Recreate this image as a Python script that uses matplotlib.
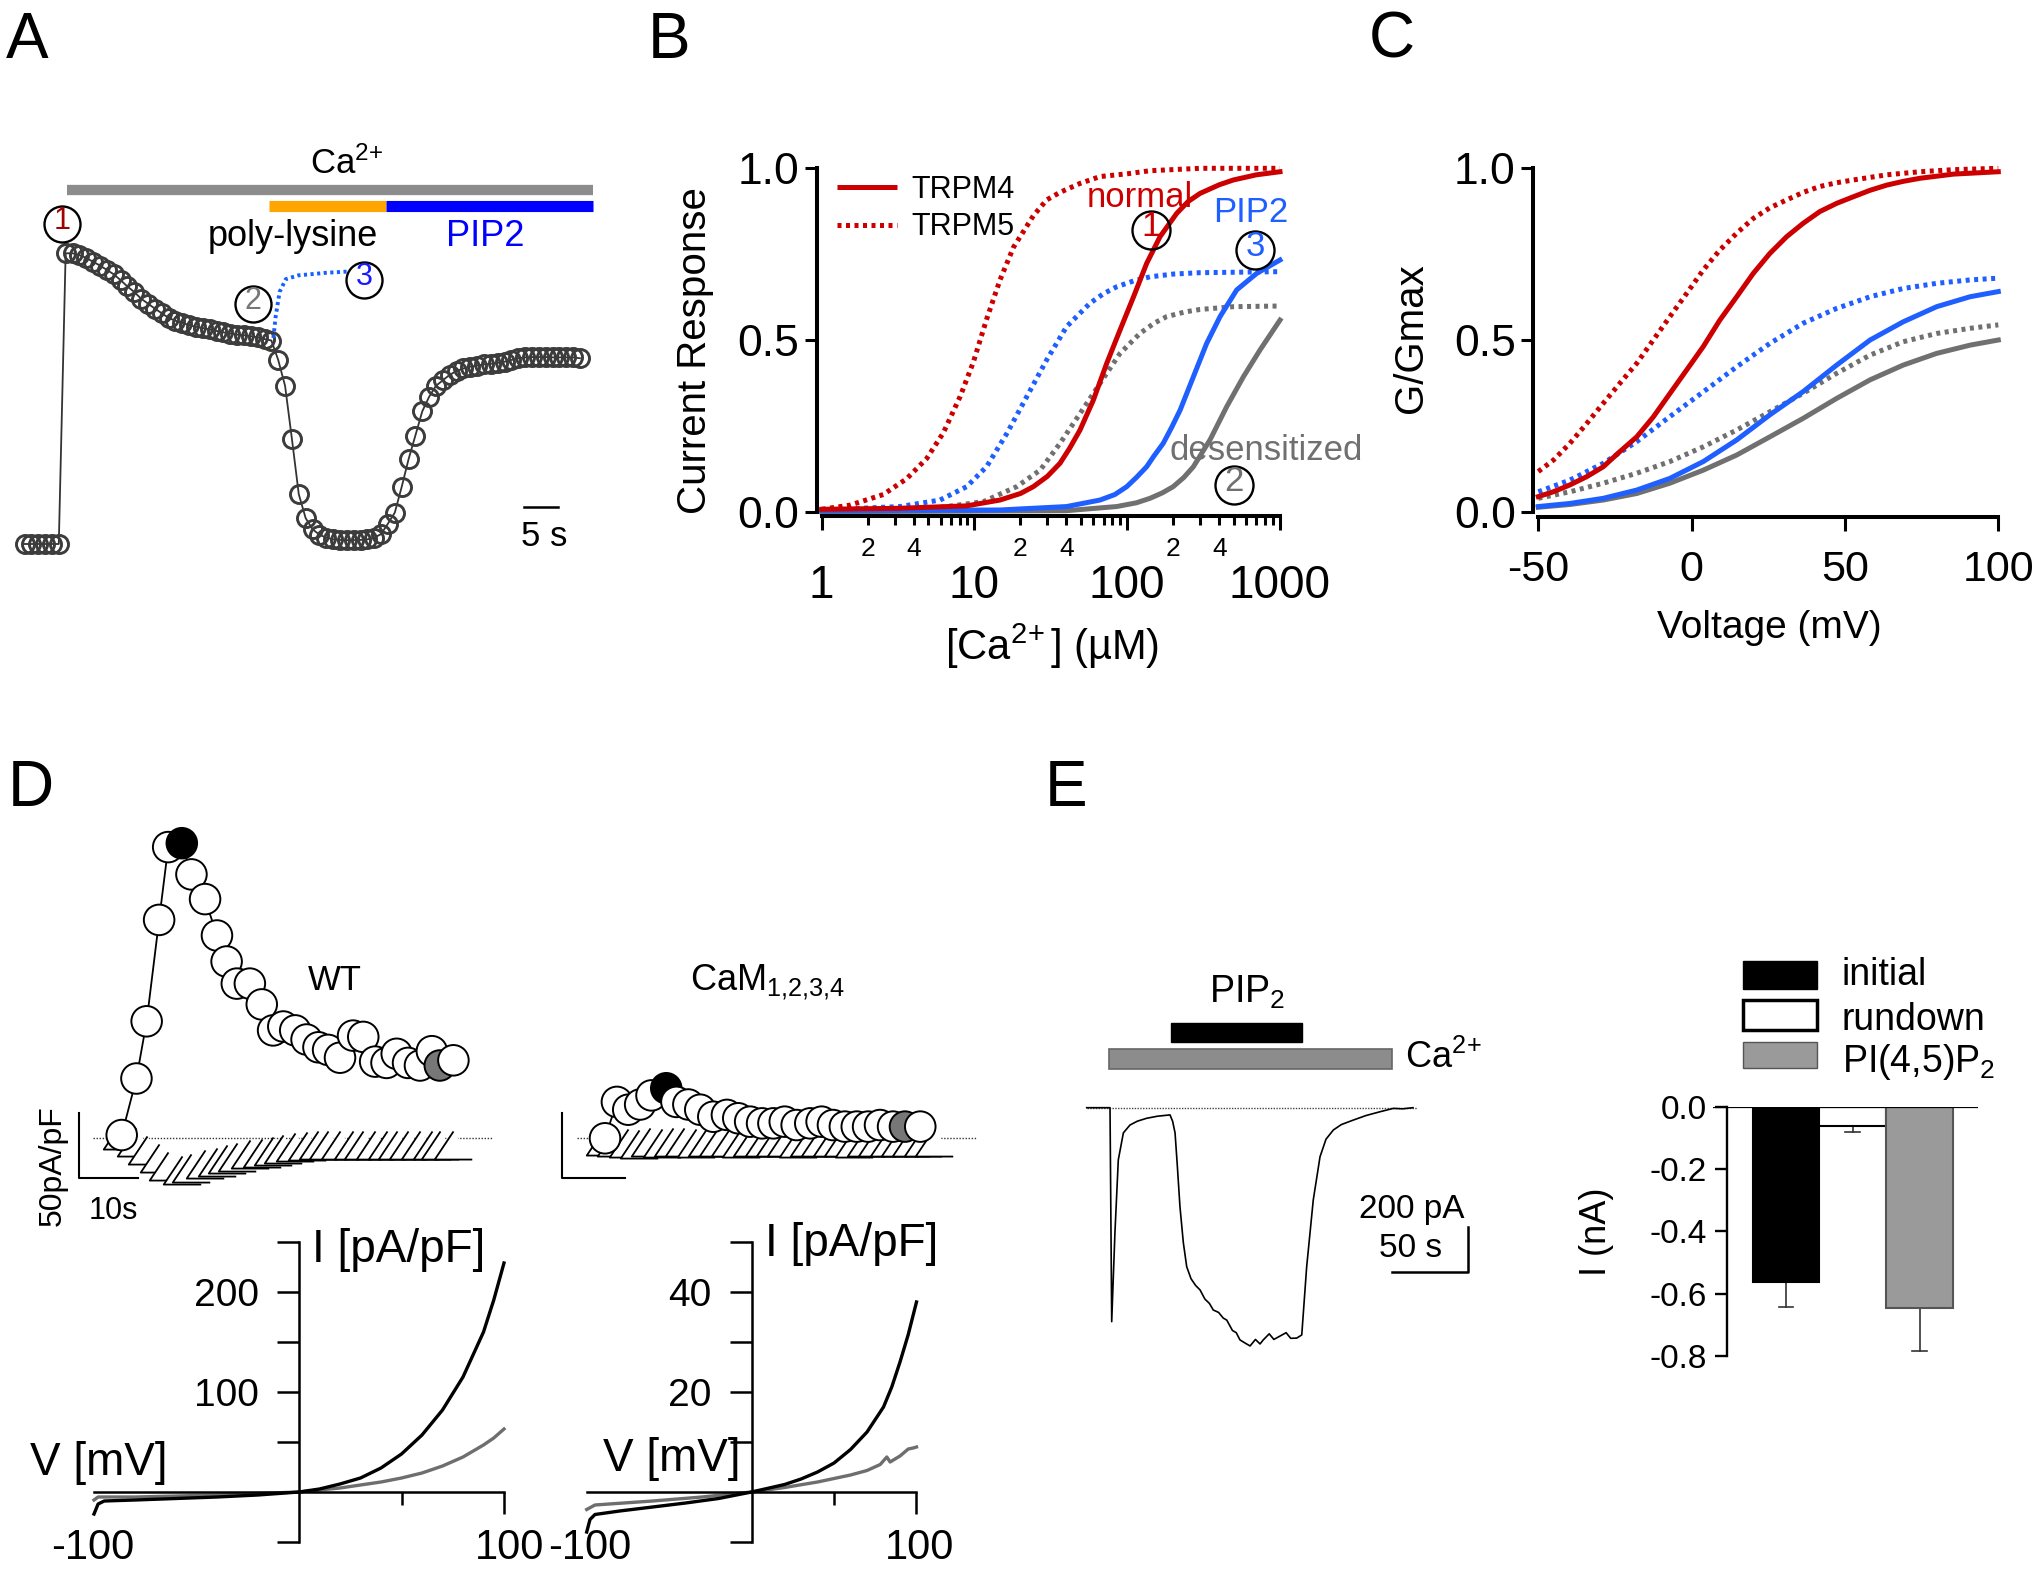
import matplotlib as mpl
mpl.use('Agg')
import matplotlib.pyplot as plt
from matplotlib.patches import Rectangle
from matplotlib.ticker import FixedLocator, FuncFormatter
import numpy as np

W, H = 2040, 1580
plt.rcParams['font.family'] = ['Liberation Sans', 'DejaVu Sans']
plt.rcParams['mathtext.fontset'] = 'custom'
plt.rcParams['mathtext.rm'] = 'Liberation Sans'
plt.rcParams['mathtext.it'] = 'Liberation Sans:italic'
plt.rcParams['mathtext.bf'] = 'Liberation Sans:bold'
plt.rcParams['axes.unicode_minus'] = False

RED = '#cc0000'
BLUE = '#1f5fff'
GRAY = '#707070'
DOT = (0, (0.8, 0.9))

# ---------------- data ----------------
# A: normalised current, one sample per second
t_a = [0, 1, 2, 3, 4, 5, 6, 7, 8, 9, 10, 11, 12, 13, 14, 15, 16, 17, 18, 19, 20,
       21, 22, 23, 24, 25, 26, 27, 28, 29, 30, 31, 32, 33, 34, 35, 36, 37, 38, 39, 40,
       41, 42, 43, 44, 45, 46, 47, 48, 49, 50, 51, 52, 53, 54, 55, 56, 57, 58, 59, 60,
       61, 62, 63, 64, 65, 66, 67, 68, 69, 70, 71, 72, 73, 74, 75, 76, 77, 78, 79, 80, 81]
i_a = [0, 0, 0, 0, 0, 0, 1.0, 1.0, .994, .984, .971, .958, .943, .928, .908, .886,
       .867, .844, .827, .810, .794, .778, .768, .761, .753, .747, .743, .738, .733,
       .728, .724, .720, .718, .715, .711, .705, .700, .633, .544, .361, .171, .089,
       .051, .032, .022, .016, .014, .013, .013, .014, .016, .022, .034, .070, .108,
       .196, .291, .373, .456, .506, .544, .563, .582, .595, .604, .610, .614, .618,
       .620, .623, .627, .633, .639, .642, .643, .643, .643, .642, .642, .642, .642, .639]
t_pip = [36.3, 36.6, 37.2, 38.1, 39.9, 44.0, 47.0]
i_pip = [0.709, 0.778, 0.867, 0.911, 0.924, 0.933, 0.937]

# B: Ca dose response (uM, normalised)
x_m5 = [1, 1.53, 2.53, 3.6, 4.87, 6.26, 8.05, 9.84, 12.0, 14.7, 18.0, 24.3, 29.7, 36.3, 49.1, 66.4, 100, 141, 300, 1000]
y_m5 = [0.007, 0.019, 0.05, 0.096, 0.155, 0.23, 0.335, 0.436, 0.56, 0.675, 0.77, 0.862, 0.908, 0.93, 0.956, 0.976, 0.984, 0.993, 1.0, 1.0]
x_m4 = [1, 3.26, 8.9, 14.7, 20.0, 24.3, 30.0, 36.3, 42.0, 49.1, 60.0, 73.4, 89.7, 110, 134, 164, 211, 250, 300, 400, 495, 700, 1000]
y_m4 = [0.007, 0.01, 0.017, 0.034, 0.053, 0.073, 0.103, 0.141, 0.185, 0.238, 0.325, 0.432, 0.529, 0.626, 0.723, 0.801, 0.869, 0.903, 0.927, 0.952, 0.966, 0.981, 0.99]
x_p5 = [1, 3.26, 5.95, 8.9, 12.0, 16.3, 22.0, 29.7, 40.1, 57.0, 70.0, 85.3, 110, 141, 200, 300, 1000]
y_p5 = [0.005, 0.015, 0.034, 0.073, 0.131, 0.228, 0.335, 0.442, 0.539, 0.607, 0.635, 0.655, 0.672, 0.684, 0.692, 0.696, 0.699]
x_d5 = [1, 5.38, 11.4, 18.9, 26.9, 36.3, 49.1, 66.4, 89.7, 121, 150, 181, 240, 300, 495, 1000]
y_d5 = [0.003, 0.01, 0.029, 0.073, 0.121, 0.199, 0.286, 0.374, 0.461, 0.519, 0.549, 0.568, 0.582, 0.589, 0.597, 0.599]
x_p4 = [1, 14.7, 40.1, 66.4, 83.0, 99.3, 115, 134, 150, 172, 195, 222, 271, 331, 405, 521, 704, 1000]
y_p4 = [0.003, 0.005, 0.015, 0.034, 0.05, 0.073, 0.1, 0.131, 0.163, 0.199, 0.245, 0.296, 0.393, 0.49, 0.568, 0.646, 0.694, 0.733]
x_d4 = [1, 40.1, 85.3, 115, 141, 170, 200, 235, 271, 348, 448, 576, 740, 1000]
y_d4 = [0, 0.003, 0.015, 0.026, 0.039, 0.055, 0.073, 0.1, 0.131, 0.209, 0.306, 0.393, 0.471, 0.558]

# C: G/Gmax vs voltage (mV)
v_m5 = [-50, -45.1, -39.7, -34.2, -28.8, -23.4, -17.9, -12.5, -7.1, -1.6, 3.8, 9.2, 14.7, 20.1, 25.5, 31.0, 36.4, 41.8, 47.3, 52.7, 63.6, 74.5, 85.3, 100]
g_m5 = [0.117, 0.150, 0.199, 0.257, 0.316, 0.374, 0.432, 0.5, 0.568, 0.636, 0.704, 0.762, 0.811, 0.854, 0.885, 0.908, 0.93, 0.947, 0.958, 0.966, 0.981, 0.990, 0.996, 1.0]
v_m4 = [-50, -45.1, -39.7, -34.2, -28.8, -23.4, -17.9, -12.5, -7.1, -1.6, 3.8, 9.2, 14.7, 20.1, 25.5, 31.0, 36.4, 41.8, 47.3, 52.7, 58.2, 63.6, 69.0, 74.5, 85.3, 100]
g_m4 = [0.044, 0.058, 0.078, 0.102, 0.131, 0.175, 0.218, 0.276, 0.344, 0.413, 0.481, 0.558, 0.626, 0.694, 0.752, 0.801, 0.840, 0.874, 0.898, 0.917, 0.936, 0.951, 0.962, 0.971, 0.983, 0.990]
v_c = [-50, -39.7, -28.8, -17.9, -7.1, 3.8, 14.7, 25.5, 36.4, 47.3, 58.2, 69.0, 79.9, 90.8, 100]
g_p5 = [0.058, 0.092, 0.141, 0.204, 0.277, 0.349, 0.422, 0.490, 0.549, 0.592, 0.626, 0.650, 0.665, 0.675, 0.680]
g_d5 = [0.039, 0.058, 0.083, 0.112, 0.146, 0.189, 0.238, 0.291, 0.345, 0.403, 0.456, 0.495, 0.519, 0.534, 0.544]
g_p4 = [0.015, 0.024, 0.039, 0.063, 0.097, 0.146, 0.209, 0.282, 0.350, 0.427, 0.5, 0.553, 0.597, 0.626, 0.641]
g_d4 = [0.013, 0.021, 0.034, 0.053, 0.083, 0.121, 0.165, 0.218, 0.272, 0.330, 0.384, 0.427, 0.461, 0.485, 0.5]

# D: time courses (s, pA/pF)
t_wt = [0, 2.6, 4.4, 6.6, 8.2, 10.6, 12.3, 14.7, 16.8, 18.5, 20.3, 22.6, 24.7, 26.7, 28.5,
        30.6, 32.6, 34.7, 36.4, 38.5, 40.8, 42.6, 44.7, 46.7, 48.5, 50.5, 52.6, 54.7, 56.1, 58.5]
i_wt = [2.5, 46, 90, 168, 224, 227, 203, 184, 156, 136, 119, 119, 103, 83, 86,
        83, 76, 70, 68, 62, 79, 78, 59, 58, 65, 58, 56, 67, 56, 60]
tri_wt = [2.5, -3, -9, -15, -21, -24, -23, -20, -18, -16, -14, -12, -11, -9.5, -8,
          -7, -6, -5.5, -5, -5, -5, -5, -5, -5, -5, -5, -5, -5, -5, -5]
t_cam = [0, 2.1, 4.1, 6.2, 8.2, 10.8, 12.6, 14.7, 16.8, 19.1, 21.5, 23.5, 25.6, 27.7,
         29.7, 31.7, 33.8, 36.2, 38.2, 40.2, 42.3, 44.4, 46.4, 48.5, 50.8, 52.9, 55.6]
i_cam = [0, 28, 22, 26, 33, 38.5, 28, 26, 22, 16.6, 18, 15.4, 12.8, 11.5,
         11.5, 12.8, 10.2, 11.5, 12.8, 10.2, 9, 9, 9, 10.2, 9, 9, 9]
t_tri_cam = [0, 2, 4, 6, 8, 10, 12, 14, 16, 18, 20, 22, 24, 26, 28, 30, 32, 34, 36, 38,
             40, 42, 44, 46, 48, 50, 52, 54, 56, 58]
tri_cam = [-2, -3, -3.5, -4, -3, -3.5, -3, -3, -3.5, -3, -3, -3, -3.5, -3, -3,
           -3, -3, -3.5, -3, -3, -3, -3, -3.5, -3, -3, -3, -3, -3, -3, -3]

# D: I-V relations (mV, pA/pF)
v_wt_k = [-100, -98, -95, -80, -60, -40, -20, 0, 10, 20, 30, 40, 50, 60, 70, 80, 90, 95, 100]
i_wt_k = [-22, -12, -9, -8, -6.5, -5, -3, 0, 3, 8, 14, 24, 38, 57, 82, 115, 160, 192, 229]
v_wt_g = [-100, -98, -80, -60, -40, -20, 0, 20, 40, 50, 60, 70, 80, 90, 95, 100]
i_wt_g = [-8, -5, -5, -4, -3, -1.5, 0, 4, 10, 14, 19, 26, 35, 47, 54, 63]
v_cam_k = [-100, -98, -95, -80, -60, -40, -20, 0, 20, 30, 40, 50, 60, 70, 80, 85, 90, 95, 100]
i_cam_k = [-8, -5.5, -4.5, -3.8, -3, -2.2, -1.3, 0, 1.5, 2.6, 4, 5.8, 8.5, 12, 17, 21, 26, 31.5, 38]
v_cam_g = [-100, -95, -60, -30, 0, 20, 40, 60, 70, 78, 82, 84, 90, 95, 98, 100]
i_cam_g = [-3.5, -2.6, -1.8, -1, 0, 0.9, 2, 3.4, 4.3, 5.5, 7, 6, 7.2, 8.6, 8.8, 9]

# E: current trace (s, pA)
t_e = [0, 15.2, 16.3, 18.4, 20.6, 23.9, 28.2, 33, 39.1, 46, 54.3, 56, 57.6, 59, 60.8, 63,
       65.2, 68, 71, 73.9, 77, 80, 82.5, 86, 89, 91.3, 95, 97.5, 99.9, 103, 106.5, 110,
       113, 115.1, 119, 122, 126, 130, 133, 136.9, 140.2, 143.4, 147.7, 152.1, 156,
       160.8, 166, 173.8, 182, 191.2, 199.9, 206, 212.7]
i_e = [0, 0, -951, -557, -232, -112, -77, -60, -47, -38, -32, -60, -112, -250, -440, -600,
       -707, -760, -790, -810, -850, -870, -899, -910, -935, -944, -990, -1000, -1032,
       -1045, -1059, -1030, -1050, -1032, -1005, -1030, -1015, -1000, -1025, -1024,
       -1010, -707, -410, -218, -140, -99, -75, -55, -35, -18, -3, -5, 0]

# E: bar summary (nA)
bar_names = ['initial', 'rundown', 'PI(4,5)P$_2$']
bar_vals = [-0.562, -0.061, -0.647]
bar_errs = [0.080, 0.021, 0.136]
bar_faces = ['black', 'white', '#9a9a9a']
bar_edges = ['black', 'black', '#555555']

# ---------------- layout helpers ----------------
fig = plt.figure(figsize=(W / 100, H / 100), dpi=100)


def axes_px(x0, x1, y0, y1):
    # box given in pixels, origin top-left
    return fig.add_axes([x0 / W, 1 - y1 / H, (x1 - x0) / W, (y1 - y0) / H])


ov = axes_px(0, W, 0, H)
ov.set_xlim(0, W)
ov.set_ylim(H, 0)
ov.axis('off')
ov.set_zorder(10)
ov.patch.set_alpha(0)


def circled(x, y, s, color, d, fs):
    ov.plot([x], [y], 'o', ms=d * 0.72, mfc='none', mec='black', mew=1.7)
    ov.text(x, y - 0.1 * fs * 100 / 72, s, color=color, fontsize=fs,
            ha='center', va='center')


TRI = [(0, 0.75), (-1, -0.75), (1, -0.75)]

# ---------------- A ----------------
axA = axes_px(24.5, 586.8, 253.3, 544)
axA.set_xlim(0, 82)
axA.set_ylim(0, 1)
axA.axis('off')
axA.plot(t_a, i_a, '-', color='#333333', lw=1.3, clip_on=False)
axA.plot(t_a, i_a, 'o', ms=13, mfc='none', mec='#3c3c3c', mew=2.1, clip_on=False)
axA.plot(t_pip, i_pip, color='#1560ff', lw=2.8, ls=DOT, clip_on=False)
axA.plot([6.24, 82.9], [1.2177, 1.2177], color='#8c8c8c', lw=7.4,
         solid_capstyle='butt', clip_on=False)
axA.plot([35.7, 52.7], [1.1644, 1.1644], color='#ffa500', lw=8,
         solid_capstyle='butt', clip_on=False)
axA.plot([52.7, 82.9], [1.1644, 1.1644], color='#0000ff', lw=8,
         solid_capstyle='butt', clip_on=False)
axA.plot([72.8, 77.8], [0.1266, 0.1266], color='black', lw=1.8, clip_on=False)

ov.text(6, 58, 'A', fontsize=46)
ov.text(310, 174, r'Ca$^{2\!+}$', fontsize=25, ha='left', va='baseline')
ov.text(292.6, 246, 'poly-lysine', fontsize=26, ha='center', va='baseline')
ov.text(485.7, 246, 'PIP2', fontsize=26, ha='center', va='baseline', color='#0000ff')
ov.text(543.7, 546, '5 s', fontsize=25, ha='center', va='baseline')
circled(62, 224, '1', '#a00000', 36, 22)
circled(253, 304, '2', '#777777', 36, 22)
circled(364, 280, '3', '#1a1aff', 36, 22)

# ---------------- B ----------------
axB = axes_px(821.7, 1280, 168.3, 511.7)
axB.set_xscale('log')
for xs, ys, c, ls in [(x_d5, y_d5, GRAY, DOT), (x_p5, y_p5, BLUE, DOT),
                      (x_m5, y_m5, RED, DOT), (x_d4, y_d4, GRAY, '-'),
                      (x_p4, y_p4, BLUE, '-'), (x_m4, y_m4, RED, '-')]:
    axB.plot(xs, ys, color=c, lw=3.6, ls=ls, clip_on=False)
axB.set_xlim(1, 1000)
axB.set_ylim(0, 1)
axB.set_xticks([1, 10, 100, 1000])
axB.set_xticklabels(['1', '10', '100', '1000'])
minors = [2, 3, 4, 5, 6, 7, 8, 9, 20, 30, 40, 50, 60, 70, 80, 90,
          200, 300, 400, 500, 600, 700, 800, 900]
axB.xaxis.set_minor_locator(FixedLocator(minors))


def minor_lab(v, pos):
    lead = int(round(v / 10 ** np.floor(np.log10(v))))
    return str(lead) if lead in (2, 4) else ''


axB.xaxis.set_minor_formatter(FuncFormatter(minor_lab))
axB.set_yticks([0, 0.5, 1.0])
axB.set_yticklabels(['0.0', '0.5', '1.0'])
axB.tick_params(axis='x', which='major', length=10, width=2.2, labelsize=33, pad=25)
axB.tick_params(axis='x', which='minor', length=6.5, width=2.2, labelsize=19, pad=9)
axB.tick_params(axis='y', length=8.6, width=2.2, labelsize=32, pad=4)
for s in ['top', 'right']:
    axB.spines[s].set_visible(False)
axB.spines['left'].set_position(('outward', 3.6))
axB.spines['bottom'].set_position(('outward', 2.9))
for s in ['left', 'bottom']:
    axB.spines[s].set_linewidth(2.9)

ov.text(648, 58, 'B', fontsize=46)
ov.text(695, 351, 'Current Response', fontsize=29, rotation=90, ha='center', va='center')
ov.text(1052, 660, '[Ca$^{2\\!+}$] (µM)', fontsize=30, ha='center', va='baseline')
ov.plot([836.7, 896.7], [186.7, 186.7], color=RED, lw=3.6, solid_capstyle='butt')
ov.plot([836.7, 896.7], [225, 225], color=RED, lw=3.6, ls=DOT)
ov.text(911.7, 198.3, 'TRPM4', fontsize=22, va='baseline')
ov.text(911.7, 235, 'TRPM5', fontsize=22, va='baseline')
ov.text(1140, 206.7, 'normal', fontsize=25, color=RED, ha='center', va='baseline')
ov.text(1250.8, 222, 'PIP2', fontsize=25, color=BLUE, ha='center', va='baseline')
ov.text(1169.3, 460, 'desensitized', fontsize=25, color=GRAY, va='baseline')
circled(1150.7, 230, '1', RED, 38, 25)
circled(1255, 250, '3', BLUE, 38, 25)
circled(1234, 485, '2', GRAY, 38, 25)

# ---------------- C ----------------
axC = axes_px(1538.3, 1998.3, 168.3, 511.7)
for vs, gs, c, ls in [(v_c, g_d5, GRAY, DOT), (v_c, g_p5, BLUE, DOT),
                      (v_m5, g_m5, RED, DOT), (v_c, g_d4, GRAY, '-'),
                      (v_c, g_p4, BLUE, '-'), (v_m4, g_m4, RED, '-')]:
    axC.plot(vs, gs, color=c, lw=3.6, ls=ls, clip_on=False)
axC.set_xlim(-50, 100)
axC.set_ylim(0, 1)
axC.set_xticks([-50, 0, 50, 100])
axC.set_yticks([0, 0.5, 1.0])
axC.set_yticklabels(['0.0', '0.5', '1.0'])
axC.tick_params(axis='x', length=10, width=2.2, labelsize=31, pad=14)
axC.tick_params(axis='y', length=8.6, width=2.2, labelsize=32, pad=4)
for s in ['top', 'right']:
    axC.spines[s].set_visible(False)
axC.spines['left'].set_position(('outward', 3.6))
axC.spines['bottom'].set_position(('outward', 3.6))
for s in ['left', 'bottom']:
    axC.spines[s].set_linewidth(2.9)

ov.text(1369, 58, 'C', fontsize=46)
ov.text(1411, 338, 'G/Gmax', fontsize=29, rotation=90, ha='center', va='center')
ov.text(1769, 628, 'Voltage (mV)', fontsize=28, ha='center', va='center')

# ---------------- D: time courses ----------------
axWT = axes_px(65, 484.6, 826.3, 1190.3)
axCM = axes_px(548.3, 967.9, 826.3, 1190.3)
for ax, tc, ic, tt, it, kb, kg, sb_right in [
        (axWT, t_wt, i_wt, t_wt, tri_wt, 5, 28, 2.95),
        (axCM, t_cam, i_cam, t_tri_cam, tri_cam, 5, 25, 3.5)]:
    ax.set_xlim(-10, 64)
    ax.set_ylim(-40, 240)
    ax.axis('off')
    faces = ['white'] * len(tc)
    faces[kb] = 'black'
    faces[kg] = '#777777'
    ax.plot([-5, 65.5], [0, 0], color='#333333', lw=1.0, ls=(0, (1, 1.2)), clip_on=False)
    ax.scatter(tt, it, s=27 ** 2, marker=TRI, facecolors='white', edgecolors='black',
               linewidths=1.3, clip_on=False, zorder=2)
    ax.plot(tc, ic, color='black', lw=1.3, clip_on=False, zorder=3)
    ax.scatter(tc, ic, s=22 ** 2, facecolors=faces, edgecolors='black',
               linewidths=1.4, clip_on=False, zorder=4)
    ax.plot([-7.5, -7.5, sb_right], [19.5, -30.5, -30.5], color='black', lw=1.5,
            clip_on=False)

ov.text(8, 806, 'D', fontsize=46)
ov.text(335, 990, 'WT', fontsize=25, ha='center', va='baseline')
ov.text(690, 991, 'CaM$_{1{,}2{,}3{,}4}$', fontsize=26, va='baseline')
ov.text(53, 1166, '50pA/pF', fontsize=23, rotation=90, ha='center', va='center')
ov.text(113.3, 1211, '10s', fontsize=22, ha='center', va='center')

# ---------------- D: I-V ----------------
axIV1 = axes_px(94, 504, 1242, 1542)
axIV2 = axes_px(586.7, 916.5, 1242, 1542)
for ax, vk, ik, vg, ig, ylim, yt, ylab in [
        (axIV1, v_wt_k, i_wt_k, v_wt_g, i_wt_g, (-50, 250),
         [-50, 50, 100, 150, 200, 250], ['', '', '100', '', '200', '']),
        (axIV2, v_cam_k, i_cam_k, v_cam_g, i_cam_g, (-10, 50),
         [-10, 10, 20, 30, 40, 50], ['', '', '20', '', '40', ''])]:
    ax.plot(vk, ik, color='black', lw=2.4, clip_on=False, zorder=3)
    ax.plot(vg, ig, color='#6e6e6e', lw=2.4, clip_on=False, zorder=2)
    ax.set_xlim(-100, 100)
    ax.set_ylim(*ylim)
    for s in ['top', 'right']:
        ax.spines[s].set_visible(False)
    ax.spines['left'].set_position(('data', 0))
    ax.spines['bottom'].set_position(('data', 0))
    for s in ['left', 'bottom']:
        ax.spines[s].set_linewidth(1.8)
    ax.set_yticks(yt)
    ax.set_yticklabels(ylab)
    ax.set_xticks([100])
    ax.set_xticklabels([''])
    ax.xaxis.set_minor_locator(FixedLocator([50]))
    ax.tick_params(axis='y', length=16, width=1.8, labelsize=28, pad=13)
    ax.tick_params(axis='x', which='major', length=16, width=1.8)
    ax.tick_params(axis='x', which='minor', length=9.5, width=1.8)

ov.text(399, 1250, 'I [pA/pF]', fontsize=33, ha='center', va='center')
ov.text(99, 1463, 'V [mV]', fontsize=33, ha='center', va='center')
ov.text(852, 1244, 'I [pA/pF]', fontsize=33, ha='center', va='center')
ov.text(672, 1459, 'V [mV]', fontsize=33, ha='center', va='center')
for xl, sl in [(92.5, '-100'), (510, '100'), (590, '-100'), (920, '100')]:
    ov.text(xl, 1548, sl, fontsize=30, ha='center', va='center')

# ---------------- E: trace ----------------
axE = axes_px(1086.7, 1416.5, 1107.7, 1355.2)
axE.set_xlim(0, 215)
axE.set_ylim(-1100, 0)
axE.axis('off')
axE.plot([0, 215.1], [0, 0], color='#444444', lw=1.0, ls=(0, (1, 1)), clip_on=False)
axE.plot(t_e, i_e, color='black', lw=1.2, clip_on=False)
axE.add_patch(Rectangle((54.8, 290.7), 140.2 - 54.8, 87.1, facecolor='black',
                        edgecolor='black', clip_on=False))
axE.add_patch(Rectangle((14.7, 170.7), 199.2 - 14.7, 88.9, facecolor='#8c8c8c',
                        edgecolor='#666666', lw=1.2, clip_on=False))
axE.plot([198.8, 248.8, 248.8], [-728.9, -728.9, -528.9], color='black', lw=1.8,
         clip_on=False)

ov.text(1045, 806, 'E', fontsize=46)
ov.text(1208.7, 1003, 'PIP$_2$', fontsize=27, va='baseline')
ov.text(1405, 1068, 'Ca$^{2\\!+}$', fontsize=26, va='baseline')
ov.text(1411.7, 1218, '200 pA', fontsize=24, ha='center', va='baseline')
ov.text(1410.8, 1257, '50 s', fontsize=24, ha='center', va='baseline')

# ---------------- E: bars ----------------
axBar = axes_px(1713.3, 1978.3, 1106.7, 1356)
xb = [0, 1, 2]
axBar.bar(xb, bar_vals, width=1.0, color=bar_faces, edgecolor=bar_edges, linewidth=1.5,
          zorder=2)
for x, v, e in zip(xb, bar_vals, bar_errs):
    axBar.plot([x, x], [v, v - e], color='#333333', lw=1.2, zorder=1)
    axBar.plot([x - 0.11, x + 0.11], [v - e, v - e], color='#333333', lw=1.2, zorder=1)
axBar.axhline(0, color='black', lw=1.6, zorder=3)
axBar.set_xlim(-1.09, 2.88)
axBar.set_ylim(-0.8, 0)
for s in ['top', 'right', 'bottom']:
    axBar.spines[s].set_visible(False)
axBar.spines['left'].set_position(('data', -0.89))
axBar.spines['left'].set_linewidth(1.7)
axBar.set_xticks([])
axBar.set_yticks([0, -0.2, -0.4, -0.6, -0.8])
axBar.set_yticklabels(['0.0', '-0.2', '-0.4', '-0.6', '-0.8'])
axBar.tick_params(axis='y', length=8.4, width=1.7, labelsize=24, pad=6)

ov.text(1596.7, 1232, 'I (nA)', fontsize=26, rotation=90, ha='center', va='center')
leg_y = [(960.7, 28.6), (1000, 30), (1041.7, 26.6)]
leg_base = [985, 1030, 1071.7]
for (y0, hgt), yb, name, fc, ec in zip(leg_y, leg_base, bar_names, bar_faces, bar_edges):
    ov.add_patch(Rectangle((1743.3, y0), 73.4, hgt, facecolor=fc, edgecolor=ec,
                           lw=2.5 if fc == 'white' else 1.0))
    ov.text(1841.7, yb, name, fontsize=27, va='baseline')

fig.savefig('out.png', dpi=100)
